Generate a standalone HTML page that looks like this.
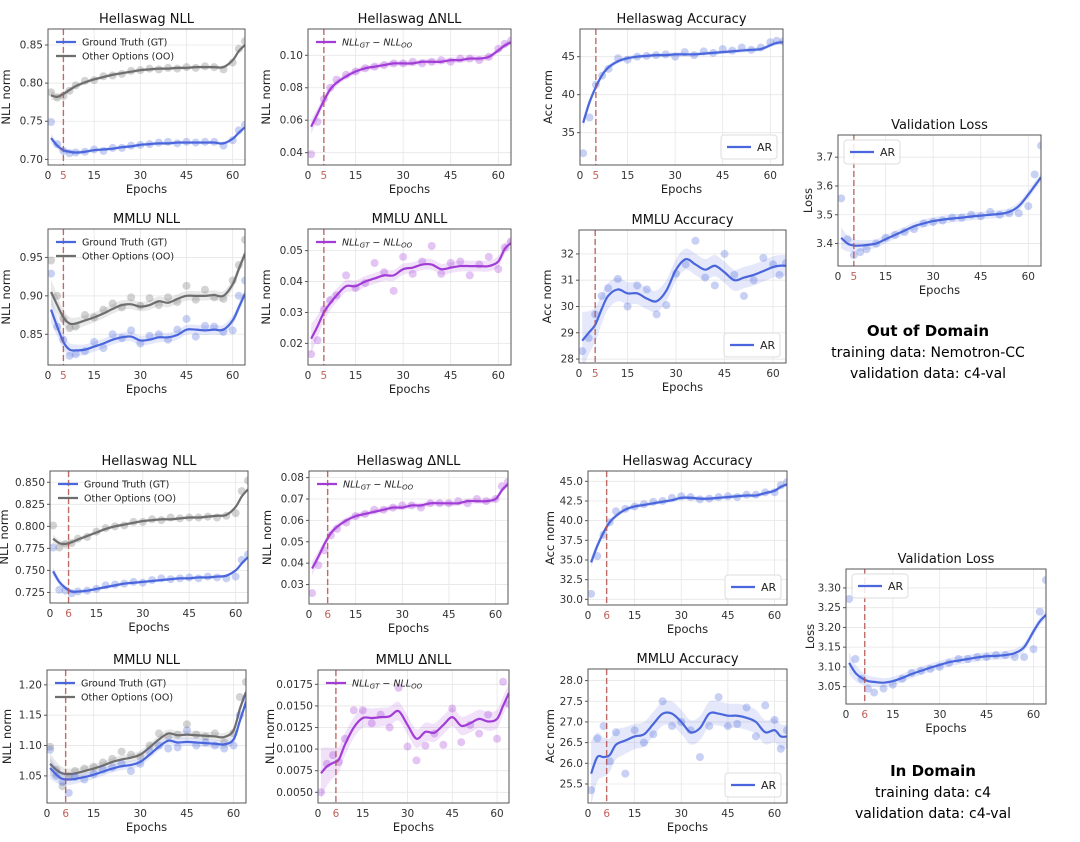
<!DOCTYPE html>
<html><head><meta charset="utf-8"><style>
body{margin:0;background:#fff;}
svg{display:block;font-family:"DejaVu Sans","Liberation Sans",sans-serif;}
</style></head><body>
<svg id="fig" width="1080" height="842" viewBox="0 0 1080 842" xmlns="http://www.w3.org/2000/svg">
<text x="928" y="336" text-anchor="middle" font-size="15" font-weight="bold" fill="#000">Out of Domain</text>
<text x="928" y="357" text-anchor="middle" font-size="14" fill="#000">training data: Nemotron-CC</text>
<text x="928" y="378" text-anchor="middle" font-size="14" fill="#000">validation data: c4-val</text>
<text x="933" y="776" text-anchor="middle" font-size="15" font-weight="bold" fill="#000">In Domain</text>
<text x="933" y="797" text-anchor="middle" font-size="14" fill="#000">training data: c4</text>
<text x="933" y="818" text-anchor="middle" font-size="14" fill="#000">validation data: c4-val</text>
</svg>
<script>
const epochs=[1,3,5,7,9,12,15,18,21,24,27,30,33,36,39,42,45,48,51,54,57,60,62,64];
const xTicks=[0,15,30,45,60];
// P1 OOD Hellaswag NLL
const p1GtLine=[0.728,0.718,0.712,0.710,0.709,0.710,0.712,0.713,0.714,0.716,0.717,0.719,0.720,0.721,0.721,0.722,0.722,0.722,0.722,0.722,0.721,0.727,0.735,0.742];
const p1GtPts=[0.749,0.72,0.711,0.708,0.709,0.71,0.713,0.711,0.715,0.715,0.718,0.719,0.72,0.722,0.723,0.721,0.723,0.722,0.723,0.723,0.718,0.725,0.738,0.745];
const p1OoLine=[0.784,0.782,0.786,0.791,0.796,0.801,0.805,0.808,0.811,0.813,0.815,0.817,0.818,0.819,0.819,0.820,0.820,0.821,0.821,0.821,0.821,0.830,0.842,0.850];
const p1OoPts=[0.788,0.781,0.783,0.79,0.797,0.803,0.804,0.809,0.81,0.812,0.816,0.817,0.819,0.818,0.82,0.819,0.821,0.82,0.822,0.821,0.818,0.827,0.845,0.855];
const p1Ticks=[0.70,0.75,0.80,0.85];
// P2 OOD Hellaswag dNLL
const p2Line=[0.056,0.064,0.072,0.079,0.083,0.087,0.090,0.092,0.093,0.094,0.095,0.095,0.095,0.096,0.096,0.096,0.097,0.097,0.098,0.098,0.099,0.103,0.106,0.108];
const p2Pts=[0.039,0.059,0.073,0.08,0.085,0.088,0.09,0.092,0.093,0.094,0.095,0.095,0.096,0.095,0.096,0.097,0.096,0.098,0.098,0.097,0.099,0.104,0.107,0.109];
const p2Ticks=[0.04,0.06,0.08,0.10];
// P3 OOD Hellaswag Acc
const p3Line=[36.3,39.0,41.0,42.6,43.6,44.4,44.8,45.0,45.1,45.2,45.2,45.3,45.3,45.3,45.4,45.5,45.6,45.7,45.8,45.9,46.0,46.5,46.8,46.9];
const p3Pts=[32.3,37.0,41.3,42.5,43.4,44.8,44.6,45.0,45.1,45.2,45.3,45.0,45.6,45.2,45.7,45.5,46.0,45.8,46.2,45.9,46.2,46.9,47.1,47.0];
const p3Ticks=[35,40,45];
// P4 OOD MMLU NLL
const p4GtLine=[0.882,0.860,0.840,0.830,0.829,0.830,0.834,0.838,0.843,0.846,0.847,0.842,0.843,0.846,0.846,0.849,0.856,0.856,0.855,0.856,0.856,0.868,0.885,0.903];
const p4GtPts=[0.929,0.86,0.843,0.822,0.824,0.828,0.84,0.832,0.85,0.845,0.855,0.838,0.848,0.85,0.843,0.856,0.87,0.847,0.861,0.86,0.853,0.855,0.9,0.92];
const p4OoLine=[0.905,0.888,0.872,0.864,0.864,0.868,0.872,0.877,0.883,0.888,0.889,0.886,0.888,0.893,0.891,0.896,0.900,0.900,0.900,0.901,0.900,0.915,0.935,0.955];
const p4OoPts=[0.946,0.9,0.87,0.858,0.86,0.875,0.872,0.882,0.89,0.885,0.898,0.887,0.897,0.888,0.898,0.892,0.913,0.895,0.908,0.898,0.896,0.92,0.94,0.973];
const p4Ticks=[0.85,0.90,0.95];
// P5 OOD MMLU dNLL
const p5Line=[0.0215,0.0255,0.030,0.033,0.0355,0.0385,0.0385,0.040,0.041,0.042,0.042,0.044,0.0445,0.0455,0.0455,0.044,0.0445,0.045,0.045,0.045,0.045,0.0465,0.0505,0.0525];
const p5Pts=[0.0165,0.021,0.031,0.034,0.0355,0.042,0.038,0.0395,0.046,0.043,0.037,0.048,0.0425,0.0465,0.0515,0.0425,0.046,0.0465,0.042,0.0455,0.048,0.044,0.051,0.053];
const p5Ticks=[0.02,0.03,0.04,0.05];
// P6 OOD MMLU Acc
const p6Line=[28.7,29.0,29.3,29.9,30.4,30.65,30.5,30.5,30.3,30.2,30.6,31.4,31.8,31.6,31.4,31.55,31.3,31.0,31.1,31.2,31.35,31.5,31.55,31.55];
const p6Pts=[28.3,28.8,29.7,30.4,30.7,31.05,30.0,30.8,30.65,29.7,30.05,31.25,31.6,32.5,31.1,30.8,32.0,31.2,30.4,31.0,31.85,31.6,31.2,31.65];
const p6Ticks=[28,29,30,31,32];
// P7 OOD Val loss
const p7Line=[3.42,3.40,3.393,3.393,3.395,3.40,3.415,3.43,3.445,3.46,3.47,3.478,3.483,3.487,3.49,3.494,3.497,3.50,3.503,3.51,3.53,3.57,3.60,3.63];
const p7Pts=[3.557,3.415,3.36,3.37,3.38,3.40,3.42,3.43,3.44,3.45,3.47,3.475,3.48,3.49,3.49,3.5,3.495,3.51,3.5,3.505,3.505,3.53,3.64,3.74];
const p7Ticks=[3.4,3.5,3.6,3.7];
// P8 ID Hellaswag NLL
const p8GtLine=[0.749,0.737,0.730,0.726,0.726,0.727,0.729,0.731,0.733,0.735,0.736,0.737,0.738,0.739,0.740,0.741,0.741,0.742,0.742,0.743,0.744,0.750,0.758,0.765];
const p8GtPts=[0.776,0.728,0.727,0.724,0.726,0.727,0.729,0.733,0.734,0.735,0.737,0.736,0.739,0.741,0.74,0.741,0.742,0.741,0.743,0.742,0.741,0.743,0.762,0.768];
const p8OoLine=[0.786,0.781,0.780,0.782,0.785,0.789,0.793,0.797,0.800,0.802,0.804,0.806,0.807,0.808,0.808,0.809,0.810,0.810,0.811,0.812,0.813,0.822,0.834,0.842];
const p8OoPts=[0.801,0.776,0.78,0.781,0.786,0.788,0.794,0.798,0.8,0.801,0.805,0.805,0.808,0.807,0.81,0.809,0.81,0.81,0.811,0.81,0.812,0.815,0.84,0.852];
const p8Ticks=[0.725,0.750,0.775,0.800,0.825,0.850];
// P9 ID Hellaswag dNLL
const p9Line=[0.0375,0.043,0.049,0.054,0.057,0.060,0.062,0.063,0.064,0.065,0.066,0.066,0.067,0.067,0.068,0.068,0.068,0.068,0.069,0.069,0.069,0.070,0.074,0.077];
const p9Pts=[0.026,0.039,0.046,0.053,0.056,0.059,0.062,0.063,0.065,0.065,0.066,0.067,0.067,0.066,0.068,0.068,0.068,0.069,0.068,0.07,0.069,0.07,0.076,0.078];
const p9Ticks=[0.03,0.04,0.05,0.06,0.07,0.08];
// P10 ID MMLU NLL
const p10GtLine=[1.063,1.052,1.045,1.044,1.045,1.048,1.052,1.057,1.062,1.066,1.068,1.073,1.085,1.098,1.108,1.105,1.106,1.105,1.104,1.103,1.102,1.110,1.140,1.172];
const p10GtPts=[1.093,1.05,1.04,1.022,1.048,1.044,1.053,1.06,1.064,1.07,1.058,1.07,1.09,1.1,1.095,1.097,1.125,1.1,1.105,1.1,1.095,1.1,1.15,1.178];
const p10OoLine=[1.070,1.060,1.054,1.053,1.054,1.058,1.062,1.067,1.073,1.077,1.080,1.085,1.097,1.110,1.120,1.117,1.118,1.117,1.116,1.115,1.114,1.125,1.160,1.188];
const p10OoPts=[1.098,1.06,1.033,1.05,1.058,1.062,1.065,1.072,1.078,1.09,1.085,1.082,1.1,1.12,1.115,1.118,1.135,1.118,1.115,1.12,1.105,1.12,1.18,1.205];
const p10Ticks=[1.05,1.10,1.15,1.20];
// P11 ID MMLU dNLL
const p11Line=[0.0072,0.0080,0.0084,0.0088,0.0105,0.0125,0.0136,0.0136,0.0137,0.0138,0.0144,0.0128,0.0112,0.0120,0.0119,0.0128,0.0137,0.0127,0.0130,0.0135,0.0132,0.0135,0.0150,0.0165];
const p11Pts=[0.005,0.0083,0.0093,0.0085,0.0112,0.0145,0.0145,0.013,0.014,0.0125,0.0171,0.0103,0.0087,0.0104,0.0118,0.0105,0.0147,0.0108,0.0128,0.0118,0.014,0.0112,0.0178,0.0152];
const p11Ticks=[0.005,0.0075,0.01,0.0125,0.015,0.0175];
// P12 ID Hellaswag Acc
const p12Line=[34.7,36.8,38.5,39.8,40.6,41.4,41.8,42.0,42.2,42.4,42.6,42.9,42.9,42.8,42.8,42.9,43.0,43.1,43.2,43.2,43.5,43.8,44.3,44.6];
const p12Pts=[30.7,35.5,38.2,39.8,41.2,41.5,41.8,42.1,42.4,42.5,42.9,43.1,43.0,42.7,42.8,43.0,43.1,43.0,43.3,43.3,43.6,43.6,44.5,44.9];
const p12Ticks=[30,32.5,35,37.5,40,42.5,45];
// P13 ID MMLU Acc
const p13Line=[25.75,26.15,26.15,26.2,26.45,26.55,26.65,26.7,26.95,27.2,27.2,27.0,26.75,26.85,27.2,27.2,27.15,27.15,27.1,27.0,26.75,26.8,26.65,26.65];
const p13Pts=[25.35,26.6,26.9,26.05,26.75,25.75,26.8,26.5,26.7,27.5,26.9,27.0,26.8,26.15,26.9,27.6,26.9,26.95,27.35,26.65,27.4,27.05,26.35,26.8];
const p13Ticks=[25.5,26,26.5,27,27.5,28];
// P14 ID Val loss
const p14Line=[3.11,3.085,3.072,3.064,3.062,3.060,3.064,3.072,3.082,3.090,3.098,3.105,3.112,3.116,3.120,3.124,3.127,3.128,3.130,3.135,3.150,3.190,3.215,3.232];
const p14Pts=[3.272,3.12,3.07,3.045,3.035,3.045,3.055,3.07,3.085,3.09,3.095,3.1,3.11,3.12,3.12,3.125,3.125,3.13,3.13,3.125,3.125,3.145,3.24,3.32];
const p14Ticks=[3.05,3.10,3.15,3.20,3.25,3.30];

const NS='http://www.w3.org/2000/svg';
const svg=document.getElementById('fig');
const BLUE='#4a66dc',GRAY='#6e6e6e',PURP='#a23cd6';
function mk(tag,attrs,parent){const e=document.createElementNS(NS,tag);for(const k in attrs)e.setAttribute(k,attrs[k]);(parent||svg).appendChild(e);return e;}
function smooth(P){
  let d='M'+P[0][0]+','+P[0][1];
  for(let i=0;i<P.length-1;i++){
    const p0=P[Math.max(0,i-1)],p1=P[i],p2=P[i+1],p3=P[Math.min(P.length-1,i+2)];
    const c1=[p1[0]+(p2[0]-p0[0])/6,p1[1]+(p2[1]-p0[1])/6];
    const c2=[p2[0]-(p3[0]-p1[0])/6,p2[1]-(p3[1]-p1[1])/6];
    d+=` C${c1[0]},${c1[1]} ${c2[0]},${c2[1]} ${p2[0]},${p2[1]}`;
  }
  return d;
}

function plot(cfg){
  const g=mk('g',{});
  
  
  const {x0,x1,y0,y1,ymin,ymax}=cfg;
  const X=e=>x0+(e-0)/(64-0)*(x1-x0);
  const Y=v=>y1-(v-ymin)/(ymax-ymin)*(y1-y0);
  const clip='c'+cfg.name;
  const cp=mk('clipPath',{id:clip},g);mk('rect',{x:x0,y:y0,width:x1-x0,height:y1-y0},cp);
  [...xTicks,cfg.vline].forEach(t=>{const l=mk('line',{x1:X(t),x2:X(t),y1:y0,y2:y1,stroke:'#e6e6e6','stroke-width':0.8},g);});
  cfg.yTicks.forEach(t=>{const l=mk('line',{x1:x0,x2:x1,y1:Y(t),y2:Y(t),stroke:'#e6e6e6','stroke-width':0.8},g);});
  const pg=mk('g',{'clip-path':'url(#'+clip+')'},g);
  cfg.series.forEach(s=>{
    const range=ymax-ymin;
    const up=[],dn=[];
    epochs.forEach((e,i)=>{const w=range*s.band*(1+2.2*Math.exp(-e/4));up.push([X(e),Y(s.line[i]+w)]);dn.push([X(e),Y(s.line[i]-w)]);});
    dn.reverse();
    const bd=smooth(up)+' L'+dn[0][0]+','+dn[0][1]+smooth(dn).replace(/^M[^ ]+/,'')+' Z';
    const band=mk('path',{d:bd,fill:s.color,'fill-opacity':0.15,stroke:'none'},pg);
    
    
    s.pts.forEach((v,i)=>{const c=mk('circle',{cx:X(epochs[i]),cy:Y(v),r:4,fill:s.color,'fill-opacity':0.3},pg);
      
      });
    const d=smooth(epochs.map((e,i)=>[X(e),Y(s.line[i])]));
    const p=mk('path',{d:d,fill:'none',stroke:s.color,'stroke-width':2.2,'stroke-linejoin':'round'},pg);
    
    
  });
  const vl=mk('line',{x1:X(cfg.vline),x2:X(cfg.vline),y1:y0,y2:y1,stroke:'#b5524f','stroke-width':1.4,'stroke-dasharray':'6,3','stroke-opacity':0.85},g);
  
  
  const fr=mk('rect',{x:x0,y:y0,width:x1-x0,height:y1-y0,fill:'none',stroke:'#555','stroke-width':1},g);
  
  
  [...xTicks,cfg.vline].forEach(t=>{
    const tl=mk('text',{x:X(t),y:y1+14,'text-anchor':'middle','font-size':10.5,fill:t===cfg.vline?'#c0605c':'#333'},g);tl.textContent=t;
    
    
  });
  cfg.yTicks.forEach(t=>{
    mk('line',{x1:x0-3,x2:x0,y1:Y(t),y2:Y(t),stroke:'#555'},g);
    const tl=mk('text',{x:x0-5,y:Y(t)+3.5,'text-anchor':'end','font-size':10.5,fill:'#333'},g);tl.textContent=t.toFixed(cfg.dec);
    
    
  });
  const xl=mk('text',{x:(x0+x1)/2,y:y1+28,'text-anchor':'middle','font-size':11.5,fill:'#222'},g);xl.textContent='Epochs';
  
  
  const yx=x0-cfg.ylOff, yy=(y0+y1)/2;
  const yl=mk('text',{x:yx,y:yy,'text-anchor':'middle','font-size':11.5,fill:'#222',transform:`rotate(-90 ${yx} ${yy})`},g);yl.textContent=cfg.ylabel;
  
  
  const tt=mk('text',{x:(x0+x1)/2,y:y0-6,'text-anchor':'middle','font-size':13,fill:'#111'},g);tt.textContent=cfg.title;
  
  
  const lg=mk('g',{},g);
  
  
  if(cfg.legend==='gtoo'){
    [['Ground Truth (GT)',BLUE],['Other Options (OO)',GRAY]].forEach((it,i)=>{
      const yy2=y0+13+i*14;
      mk('line',{x1:x0+8,x2:x0+28,y1:yy2,y2:yy2,stroke:it[1],'stroke-width':2.2},lg);
      const t=mk('text',{x:x0+34,y:yy2+3.5,'font-size':9.5,fill:'#222'},lg);t.textContent=it[0];
      
      
    });
  } else if(cfg.legend==='delta'){
    const yy2=y0+13;
    mk('line',{x1:x0+8,x2:x0+28,y1:yy2,y2:yy2,stroke:PURP,'stroke-width':2.2},lg);
    const t=mk('text',{x:x0+34,y:yy2+3.5,'font-size':9.5,fill:'#222','font-style':'italic'},lg);
    t.innerHTML='NLL<tspan font-size="7" dy="2">GT</tspan><tspan dy="-2"> − NLL</tspan><tspan font-size="7" dy="2">OO</tspan>';
    
    
  } else {
    const bw=56,bh=24;
    const bx=cfg.legend==='ar-br'?x1-bw-6:x0+6, by=cfg.legend==='ar-br'?y1-bh-6:y0+5;
    mk('rect',{x:bx,y:by,width:bw,height:bh,rx:3,fill:'#fff','fill-opacity':0.85,stroke:'#ddd'},lg);
    mk('line',{x1:bx+6,x2:bx+30,y1:by+bh/2,y2:by+bh/2,stroke:BLUE,'stroke-width':2.2},lg);
    const t=mk('text',{x:bx+36,y:by+bh/2+4,'font-size':11,fill:'#222'},lg);t.textContent='AR';
    
    
  }
}
const B=0.012;
function gtoo(gl,gp,ol,op){return [{key:'other-options',color:GRAY,line:ol,pts:op,band:B},{key:'ground-truth',color:BLUE,line:gl,pts:gp,band:B}];}
plot({name:'ood-hellaswag-nll',title:'Hellaswag NLL',x0:48,x1:245,y0:29,y1:165,ymin:0.6926,ymax:0.871,yTicks:p1Ticks,dec:2,vline:5,ylabel:'NLL norm',ylOff:38,legend:'gtoo',series:gtoo(p1GtLine,p1GtPts,p1OoLine,p1OoPts)});
plot({name:'ood-hellaswag-delta-nll',title:'Hellaswag ΔNLL',x0:308,x1:511,y0:29,y1:165,ymin:0.0324,ymax:0.1162,yTicks:p2Ticks,dec:2,vline:5,ylabel:'NLL norm',ylOff:38,legend:'delta',series:[{key:'delta-nll',color:PURP,line:p2Line,pts:p2Pts,band:0.02}]});
plot({name:'ood-hellaswag-accuracy',title:'Hellaswag Accuracy',x0:580,x1:783,y0:29,y1:165,ymin:30.75,ymax:48.64,yTicks:p3Ticks,dec:0,vline:5,ylabel:'Acc norm',ylOff:28,legend:'ar-br',series:[{key:'ar',color:BLUE,line:p3Line,pts:p3Pts,band:0.015}]});
plot({name:'ood-mmlu-nll',title:'MMLU NLL',x0:48,x1:245,y0:229,y1:365,ymin:0.81,ymax:0.987,yTicks:p4Ticks,dec:2,vline:5,ylabel:'NLL norm',ylOff:38,legend:'gtoo',series:gtoo(p4GtLine,p4GtPts,p4OoLine,p4OoPts).map(s=>(s.band=0.035,s))});
plot({name:'ood-mmlu-delta-nll',title:'MMLU ΔNLL',x0:308,x1:511,y0:229,y1:365,ymin:0.013,ymax:0.057,yTicks:p5Ticks,dec:2,vline:5,ylabel:'NLL norm',ylOff:38,legend:'delta',series:[{key:'delta-nll',color:PURP,line:p5Line,pts:p5Pts,band:0.04}]});
plot({name:'ood-mmlu-accuracy',title:'MMLU Accuracy',x0:579,x1:786,y0:230,y1:363,ymin:27.85,ymax:32.91,yTicks:p6Ticks,dec:0,vline:5,ylabel:'Acc norm',ylOff:28,legend:'ar-br',series:[{key:'ar',color:BLUE,line:p6Line,pts:p6Pts,band:0.08}]});
plot({name:'ood-validation-loss',title:'Validation Loss',x0:838,x1:1041,y0:135,y1:266,ymin:3.322,ymax:3.777,yTicks:p7Ticks,dec:1,vline:5,ylabel:'Loss',ylOff:26,legend:'ar-tl',series:[{key:'ar',color:BLUE,line:p7Line,pts:p7Pts,band:0.03}]});
plot({name:'id-hellaswag-nll',title:'Hellaswag NLL',x0:50,x1:248,y0:471,y1:603,ymin:0.713,ymax:0.8628,yTicks:p8Ticks,dec:3,vline:6,ylabel:'NLL norm',ylOff:42,legend:'gtoo',series:gtoo(p8GtLine,p8GtPts,p8OoLine,p8OoPts)});
plot({name:'id-hellaswag-delta-nll',title:'Hellaswag ΔNLL',x0:309,x1:508,y0:471,y1:604,ymin:0.0209,ymax:0.0831,yTicks:p9Ticks,dec:2,vline:6,ylabel:'NLL norm',ylOff:38,legend:'delta',series:[{key:'delta-nll',color:PURP,line:p9Line,pts:p9Pts,band:0.02}]});
plot({name:'id-mmlu-nll',title:'MMLU NLL',x0:47,x1:246,y0:670,y1:803,ymin:1.0053,ymax:1.2245,yTicks:p10Ticks,dec:2,vline:6,ylabel:'NLL norm',ylOff:36,legend:'gtoo',series:gtoo(p10GtLine,p10GtPts,p10OoLine,p10OoPts).map(s=>(s.band=0.03,s))});
plot({name:'id-mmlu-delta-nll',title:'MMLU ΔNLL',x0:318,x1:509,y0:670,y1:803,ymin:0.00376,ymax:0.01916,yTicks:p11Ticks,dec:4,vline:6,ylabel:'NLL norm',ylOff:44,legend:'delta',series:[{key:'delta-nll',color:PURP,line:p11Line,pts:p11Pts,band:0.07}]});
plot({name:'id-hellaswag-accuracy',title:'Hellaswag Accuracy',x0:588,x1:787,y0:471,y1:605,ymin:29.28,ymax:46.31,yTicks:p12Ticks,dec:1,vline:6,ylabel:'Acc norm',ylOff:34,legend:'ar-br',series:[{key:'ar',color:BLUE,line:p12Line,pts:p12Pts,band:0.015}]});
plot({name:'id-mmlu-accuracy',title:'MMLU Accuracy',x0:588,x1:787,y0:669,y1:803,ymin:25.04,ymax:28.28,yTicks:p13Ticks,dec:1,vline:6,ylabel:'Acc norm',ylOff:34,legend:'ar-br',series:[{key:'ar',color:BLUE,line:p13Line,pts:p13Pts,band:0.09}]});
plot({name:'id-validation-loss',title:'Validation Loss',x0:846,x1:1046,y0:569,y1:704,ymin:3.006,ymax:3.348,yTicks:p14Ticks,dec:2,vline:6,ylabel:'Loss',ylOff:32,legend:'ar-tl',series:[{key:'ar',color:BLUE,line:p14Line,pts:p14Pts,band:0.03}]});
</script>
</body></html>
